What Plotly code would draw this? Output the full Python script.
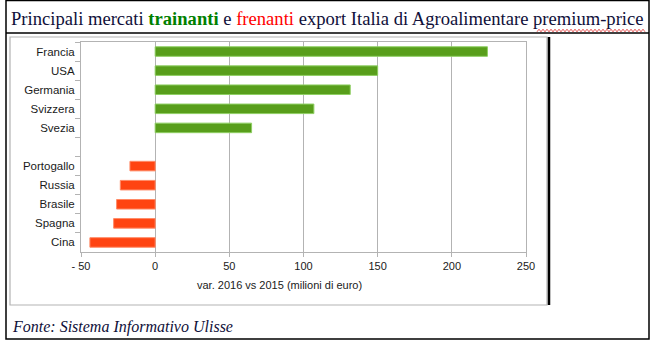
import plotly.graph_objects as go

# ---- data ----
categories = ["Francia", "USA", "Germania", "Svizzera", "Svezia", " ",
              "Portogallo", "Russia", "Brasile", "Spagna", "Cina"]
values = [224, 150, 131.5, 107, 65, None, -17, -23.5, -26, -28, -44]
tick_vals = [-50, 0, 50, 100, 150, 200, 250]
tick_text = ["- 50", "0", "50", "100", "150", "200", "250"]
x_title = "var. 2016 vs 2015 (milioni di euro)"

GREEN = "#589e1b"
RED = "#ff4411"
colors = [GREEN if (v is not None and v >= 0) else RED for v in values]
line_colors = ["#8fcf63" if (v is not None and v >= 0) else "#ff8a66" for v in values]

W, H = 659, 350
L, R, T, B = 81, 133, 42, 98
PW, PH = W - L - R, H - T - B


def px(x):
    return (x - L) / PW


def py(y):
    return (H - B - y) / PH


fig = go.Figure()
fig.add_trace(go.Bar(
    x=values, y=categories, orientation="h",
    marker=dict(color=colors, line=dict(color=line_colors, width=1)),
    hoverinfo="x+y",
))

shapes = []
# outer black frame
shapes.append(dict(type="rect", xref="paper", yref="paper",
                   x0=px(6), x1=px(649), y0=py(0.5), y1=py(339),
                   line=dict(color="black", width=1.5), layer="below"))
# line under title
shapes.append(dict(type="line", xref="paper", yref="paper",
                   x0=px(6), x1=px(649), y0=py(33), y1=py(33),
                   line=dict(color="black", width=1.5)))
# inner gray chart frame
shapes.append(dict(type="rect", xref="paper", yref="paper",
                   x0=px(10), x1=px(547), y0=py(37), y1=py(305),
                   line=dict(color="#b3b3b3", width=1.2), layer="below"))
# thick black vertical line
shapes.append(dict(type="line", xref="paper", yref="paper",
                   x0=px(549), x1=px(549), y0=py(37), y1=py(305),
                   line=dict(color="black", width=2.5)))
# spell-check wavy underline
pts = []
x = 537.0
k = 0
while x <= 645:
    yy = 30.5 + (1.3 if k % 2 == 0 else -1.3)
    pts.append((px(x), py(yy)))
    x += 2.0
    k += 1
path = "M " + " L ".join(f"{a:.5f},{b:.5f}" for a, b in pts)
shapes.append(dict(type="path", xref="paper", yref="paper", path=path,
                   line=dict(color="#e03030", width=0.8)))

annotations = [
    dict(xref="paper", yref="paper", x=px(9), y=py(19), xanchor="left", yanchor="middle",
         showarrow=False,
         text="Principali mercati <b><span style='color:#008000'>trainanti</span></b> e "
              "<span style='color:#ff0000'>frenanti</span> export Italia di Agroalimentare premium-price",
         font=dict(family="Liberation Serif", size=18.6, color="#10103a")),
    dict(xref="paper", yref="paper", x=px(10), y=py(327), xanchor="left", yanchor="middle",
         showarrow=False,
         text="<i>Fonte: Sistema Informativo Ulisse</i>",
         font=dict(family="Liberation Serif", size=16, color="#10103a")),
    dict(xref="paper", yref="paper", x=px(279), y=py(285), xanchor="center", yanchor="middle",
         showarrow=False, text=x_title,
         font=dict(family="Liberation Sans", size=11, color="#1a1a1a")),
]

fig.update_layout(
    width=W, height=H,
    margin=dict(l=L, r=R, t=T, b=B, pad=0),
    paper_bgcolor="white", plot_bgcolor="white",
    showlegend=False,
    bargap=0.5,
    shapes=shapes,
    annotations=annotations,
    font=dict(family="Liberation Sans", size=11, color="#1a1a1a"),
    xaxis=dict(
        range=[-50, 250], tickvals=tick_vals, ticktext=tick_text,
        showgrid=True, gridcolor="#b3b3b3", gridwidth=1,
        zeroline=False,
        showline=True, linecolor="#b3b3b3", linewidth=1, mirror=True,
        ticks="outside", ticklen=4, tickcolor="#b3b3b3",
        tickfont=dict(size=11),
        fixedrange=True,
    ),
    yaxis=dict(
        categoryorder="array", categoryarray=categories, autorange="reversed",
        tickson="boundaries",
        showgrid=False, zeroline=False,
        showline=True, linecolor="#b3b3b3", linewidth=1, mirror=True,
        ticks="outside", ticklen=5, tickcolor="#b3b3b3",
        tickfont=dict(size=11.5),
        ticklabelstandoff=3,
        fixedrange=True,
    ),
)

fig.write_html("out.html")
